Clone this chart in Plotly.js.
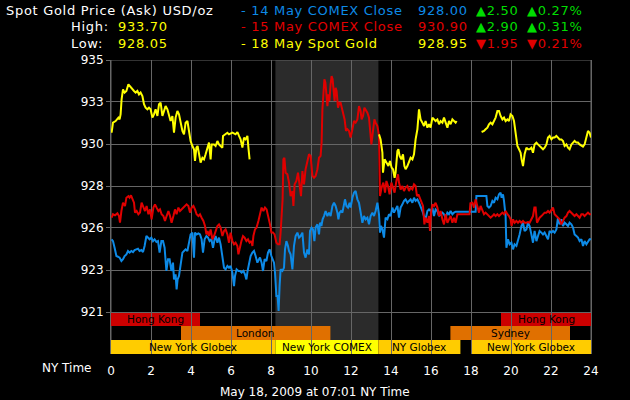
<!DOCTYPE html>
<html><head><meta charset="utf-8">
<script src="https://cdn.plot.ly/plotly-3.0.1.min.js"></script>
<style>html,body{margin:0;padding:0;background:#000;}#chart{width:630px;height:400px;}</style>
</head><body><div id="chart"></div>
<script>
// ---------- DATA ----------
const yellowHours = [0.03,0.10,0.23,0.37,0.43,0.48,0.53,0.60,0.68,0.77,
 0.87,0.93,1.03,1.15,1.23,1.32,1.40,1.48,1.57,1.65,
 1.73,1.82,1.90,1.98,2.07,2.15,2.23,2.32,2.40,2.48,
 2.57,2.65,2.73,2.82,2.90,2.98,3.07,3.15,3.23,3.32,
 3.40,3.48,3.57,3.65,3.73,3.82,3.90,3.98,4.07,4.15,
 4.20,4.27,4.33,4.40,4.48,4.57,4.65,4.73,4.82,4.90,
 4.98,5.03,5.15,5.23,5.32,5.40,5.48,5.57,5.60,5.70,
 5.82,5.90,6.07,6.23,6.32,6.40,6.48,6.57,6.65,6.73,
 6.82,6.87,6.93,null,
 13.40,13.48,13.57,13.60,13.68,13.77,13.87,13.95,14.03,14.10,
 14.18,14.23,14.32,14.37,14.43,14.52,14.60,14.67,14.73,14.82,
 14.90,14.98,15.07,15.15,15.23,15.32,15.40,15.48,15.57,15.65,
 15.73,15.82,15.90,15.98,16.07,16.15,16.23,16.32,16.40,16.48,
 16.57,16.65,16.73,16.82,16.90,16.98,17.07,17.15,17.23,17.28,null,
 18.53,18.65,18.73,18.82,18.90,18.98,19.07,19.15,19.23,19.32,
 19.40,19.48,19.57,19.65,19.73,19.82,19.90,19.98,20.07,20.15,
 20.23,20.32,20.40,20.48,20.53,20.60,20.68,20.77,20.85,20.93,
 21.02,21.10,21.18,21.27,21.35,21.43,21.52,21.60,21.68,21.77,
 21.85,21.93,22.02,22.10,22.18,22.27,22.35,22.43,22.52,22.60,
 22.68,22.77,22.85,22.93,23.02,23.10,23.18,23.27,23.35,23.43,
 23.52,23.60,23.68,23.77,23.85,23.93,24.00];
const yellowPrices = [930.96,931.52,931.61,931.80,931.70,931.98,932.81,933.37,933.19,933.28,
 933.65,933.56,933.46,933.28,933.19,933.28,933.09,933.19,933.00,932.54,
 932.35,932.26,932.35,932.26,931.80,931.98,932.26,931.89,932.54,932.63,
 931.89,932.17,932.44,932.26,931.98,931.61,931.89,930.96,931.80,932.17,
 931.98,931.43,931.06,930.87,931.52,931.61,930.96,930.50,930.22,930.04,
 929.39,930.13,930.22,929.67,929.30,929.57,929.48,929.76,930.13,930.41,
 929.48,930.31,930.31,930.22,930.50,930.31,930.22,930.13,930.78,930.87,
 930.96,930.87,930.96,930.87,931.00,930.78,930.59,930.13,930.69,930.59,
 930.78,930.13,929.48,null,
 930.87,930.59,929.85,928.74,929.48,929.30,929.11,929.39,929.02,928.93,
 928.46,928.74,929.94,930.04,929.67,929.48,929.76,929.11,928.93,929.11,
 929.39,929.57,929.48,929.76,930.59,931.15,932.26,931.70,931.52,931.33,
 931.61,931.24,931.43,931.24,931.80,931.70,931.61,931.70,931.43,931.61,
 931.52,931.80,931.52,931.24,931.61,931.43,931.70,931.61,931.52,931.61,null,
 931.00,931.06,931.15,931.24,931.43,931.52,931.43,931.61,931.80,932.17,
 932.17,931.89,931.70,931.80,931.61,931.70,931.61,931.98,931.89,931.61,
 930.96,930.22,930.04,929.85,929.48,929.11,929.76,930.13,930.04,930.04,
 930.13,929.85,930.31,930.41,930.31,930.22,930.13,930.04,930.13,930.31,
 930.69,930.78,930.59,930.69,930.69,930.78,930.69,930.59,930.59,930.50,
 930.22,930.31,930.13,930.04,930.31,930.41,930.50,930.41,930.41,930.31,
 930.22,930.19,930.31,930.69,931.06,930.96,930.69];

const redHours = [0.03,0.10,0.20,0.32,0.40,0.45,0.52,0.60,0.70,0.77,
 0.87,0.93,1.00,1.07,1.15,1.20,1.28,1.37,1.45,1.53,
 1.62,1.70,1.78,1.87,1.95,2.03,2.12,2.20,2.28,2.37,
 2.45,2.53,2.62,2.70,2.78,2.87,2.95,3.03,3.12,3.20,
 3.28,3.37,3.45,3.53,3.62,3.70,3.78,3.87,3.95,4.03,
 4.12,4.20,4.28,4.37,4.45,4.53,4.62,4.70,4.77,4.83,
 4.90,4.98,5.07,5.15,5.23,5.32,5.40,5.48,5.57,5.65,
 5.73,5.82,5.90,5.98,
 6.07,6.15,6.23,6.32,6.37,6.43,6.52,6.60,6.68,6.77,
 6.85,6.93,7.02,7.07,7.12,7.20,7.28,7.37,7.45,7.53,
 7.62,7.70,7.78,7.87,7.95,8.02,8.10,8.18,8.27,8.35,
 8.43,8.48,8.53,8.58,8.62,8.67,8.73,8.82,8.90,8.98,
 9.07,9.12,9.18,9.27,9.35,9.43,9.50,9.57,9.65,9.73,
 9.82,9.90,9.98,10.07,10.15,10.23,10.32,10.40,10.48,10.53,
 10.57,10.62,10.67,10.72,10.77,10.82,10.87,10.92,10.98,11.03,
 11.08,11.13,11.18,11.23,11.28,11.35,11.42,11.48,11.55,11.62,
 11.68,11.75,11.82,11.90,11.98,
 12.07,12.15,12.23,12.32,12.40,12.48,12.53,12.60,12.67,12.73,
 12.82,12.90,12.95,13.02,13.10,13.17,13.23,13.32,13.40,13.45,
 13.53,13.62,13.70,13.77,13.85,13.93,14.02,14.10,14.18,14.27,
 14.35,14.40,14.48,14.57,14.65,14.73,14.82,14.90,14.98,15.07,
 15.15,15.23,15.30,15.37,15.43,15.52,15.60,15.67,15.73,15.82,
 15.90,15.95,16.00,16.07,16.15,16.23,16.32,16.40,16.48,16.57,
 16.65,16.73,16.82,16.90,16.98,17.07,17.15,17.23,17.32,17.93,
 17.97,18.07,18.15,18.23,18.32,18.40,18.48,18.57,18.65,18.73,
 18.82,18.90,18.98,19.07,19.15,19.23,19.32,19.40,19.48,19.57,
 19.65,19.73,19.82,19.90,19.98,20.03,20.10,20.18,20.27,20.35,
 20.43,20.52,20.60,20.68,20.77,20.85,20.93,21.02,21.10,21.17,
 21.23,21.30,21.37,21.43,21.52,21.60,21.68,21.77,21.85,21.93,
 22.02,22.10,22.18,22.27,22.35,22.43,22.52,22.60,22.68,22.77,
 22.85,22.93,23.02,23.10,23.18,23.27,23.35,23.43,23.52,23.60,
 23.68,23.77,23.85,23.93,24.00];
const redPrices = [926.24,926.43,926.37,926.48,926.33,925.96,926.61,927.07,926.89,927.35,
 927.44,927.35,927.48,927.26,927.07,926.52,926.61,926.43,926.52,927.07,
 926.80,926.61,926.89,926.43,926.70,926.15,926.80,926.98,926.80,926.61,
 926.70,926.43,926.33,926.06,926.33,926.61,926.33,925.96,926.33,926.70,
 926.43,926.80,926.61,926.70,926.80,926.89,926.98,926.89,926.52,926.80,
 926.89,926.70,926.43,926.33,926.43,926.24,926.06,925.78,925.31,925.50,
 925.22,925.59,925.04,925.22,925.50,925.78,925.87,925.69,925.22,925.50,
 925.59,925.31,924.85,925.41,
 924.94,924.76,924.85,924.67,924.20,924.57,924.94,925.22,925.13,924.94,
 925.04,924.85,924.94,924.67,925.22,925.59,925.69,926.06,926.43,926.80,
 926.61,926.80,926.70,926.33,925.87,925.41,925.41,925.31,924.85,924.76,
 924.76,925.41,926.33,927.26,929.48,929.57,928.74,928.65,928.19,927.44,
 927.72,926.89,928.09,928.28,928.74,928.00,927.44,928.83,928.09,928.93,
 929.30,929.76,929.67,928.56,928.46,928.56,928.93,929.57,929.67,930.41,
 932.26,933.37,933.93,933.74,933.19,932.44,933.09,932.72,933.65,934.11,
 933.93,933.37,932.72,933.46,933.28,932.35,932.63,932.63,932.26,932.07,
 931.70,931.06,931.15,931.06,930.69,
 931.15,931.61,931.52,931.70,932.44,932.17,931.70,931.89,932.35,932.26,
 932.07,931.80,931.15,930.31,931.06,931.70,931.52,931.33,930.78,927.44,
 927.91,928.19,927.63,928.28,928.00,927.54,928.19,927.91,927.63,928.28,
 928.65,928.19,927.81,928.00,927.72,927.91,928.00,927.72,927.91,927.81,
 928.09,928.00,927.44,927.54,927.35,927.17,926.89,925.87,926.24,925.96,
 926.33,925.50,926.52,926.98,926.89,927.07,926.80,926.33,926.61,926.15,
 925.87,926.43,925.96,926.15,926.33,925.96,926.24,925.96,926.43,926.43,
 927.04,927.07,926.80,927.26,926.80,926.52,926.89,926.61,926.43,926.52,
 926.43,926.33,926.24,926.33,926.43,926.33,926.43,926.33,926.43,926.52,
 926.43,926.61,926.43,926.33,926.15,925.78,926.15,925.96,926.06,925.96,
 926.06,925.96,926.06,925.96,925.96,926.00,925.96,926.15,926.33,926.80,
 926.80,925.96,926.15,926.24,926.33,926.43,926.52,926.52,926.61,926.52,
 926.70,926.80,926.43,926.33,926.24,926.15,925.87,926.06,926.24,926.33,
 926.52,926.61,926.52,926.43,926.33,926.43,926.33,926.24,926.43,926.43,
 926.33,926.43,926.52,926.43,926.43];

const blueHours = [0.03,0.10,0.18,0.27,0.35,0.43,0.52,0.60,0.68,0.77,
 0.85,0.93,1.02,1.10,1.18,1.27,1.35,1.43,1.52,1.60,
 1.68,1.77,1.85,1.93,2.02,2.10,2.18,2.27,2.35,2.43,
 2.52,2.60,2.68,2.77,2.85,2.93,3.02,3.10,3.15,3.23,
 3.28,3.33,3.40,3.48,3.57,3.65,3.73,3.82,3.90,3.98,
 4.07,4.15,4.20,4.28,4.37,4.45,4.53,4.60,4.68,4.77,
 4.85,4.93,5.02,5.10,5.18,5.23,5.32,5.40,5.48,5.57,
 5.65,5.73,5.82,5.90,5.98,
 6.07,6.15,6.20,6.28,6.37,6.45,6.53,6.62,6.70,6.77,
 6.83,6.90,6.98,7.07,7.15,7.23,7.32,7.40,7.45,7.53,
 7.60,7.68,7.77,7.85,7.93,8.02,8.10,8.15,8.20,8.27,
 8.33,8.38,8.43,8.48,8.57,8.65,8.70,8.77,8.85,8.90,
 8.98,9.07,9.15,9.23,9.32,9.40,9.48,9.57,9.65,9.73,
 9.82,9.90,9.95,10.03,10.10,10.17,10.23,10.32,10.40,10.45,
 10.52,10.58,10.65,10.73,10.82,10.90,10.98,11.07,11.15,11.23,
 11.32,11.37,11.43,11.50,11.57,11.65,11.70,11.77,11.85,11.93,
 11.98,
 12.07,12.15,12.23,12.32,12.40,12.48,12.57,12.65,12.73,12.82,
 12.90,12.98,13.07,13.15,13.23,13.32,13.40,13.45,13.50,13.57,
 13.65,13.73,13.82,13.90,13.98,14.07,14.15,14.23,14.32,14.40,
 14.48,14.57,14.65,14.73,14.82,14.90,14.98,15.07,15.15,15.23,
 15.32,15.40,15.48,15.57,15.65,15.73,15.82,15.90,15.98,16.07,
 16.15,16.23,16.32,16.40,16.48,16.57,16.65,16.73,16.82,16.90,
 16.98,17.07,17.15,17.23,
 18.23,18.27,18.77,18.82,18.90,18.98,19.07,19.15,19.23,19.32,
 19.40,19.48,19.53,19.60,19.65,19.70,19.73,19.77,19.85,19.93,
 20.02,20.10,20.18,20.27,20.35,20.43,20.52,20.60,20.68,20.77,
 20.85,20.93,21.02,21.10,21.18,21.27,21.35,21.43,21.52,21.60,
 21.68,21.77,21.85,21.93,22.02,22.10,22.18,22.27,22.35,22.43,
 22.52,22.60,22.68,22.77,22.85,22.93,23.02,23.10,23.18,23.27,
 23.35,23.43,23.52,23.60,23.68,23.77,23.85,23.93,24.00];
const bluePrices = [925.04,924.94,924.57,924.11,924.07,924.02,923.83,923.93,924.11,924.20,
 924.39,924.30,924.39,924.33,924.44,924.48,924.52,924.39,924.44,924.33,
 924.67,925.22,925.13,925.04,925.13,924.94,925.04,924.89,924.94,924.30,
 924.94,924.94,924.57,923.28,923.93,923.93,923.28,923.74,922.81,923.09,
 922.26,922.81,923.00,923.65,924.30,924.39,924.48,924.39,924.85,925.31,
 925.41,924.02,925.41,925.31,925.37,925.31,925.04,924.30,925.04,925.22,
 925.13,924.94,925.04,924.57,925.04,925.22,924.85,925.13,924.76,924.11,
 923.46,923.37,923.56,923.46,923.56,
 923.19,922.44,923.00,923.37,923.28,923.28,923.19,923.28,923.09,922.81,
 923.28,923.74,924.11,924.30,924.39,924.11,923.74,923.93,924.02,923.74,
 923.28,923.93,923.83,924.30,924.48,924.11,923.93,923.74,923.19,921.89,
 921.89,921.06,922.44,923.37,923.28,923.46,924.48,924.94,924.67,924.39,
 924.20,923.37,924.67,925.22,925.41,925.13,925.22,925.41,924.30,924.02,
 924.48,924.20,925.50,925.69,925.59,924.94,925.69,925.87,925.31,925.96,
 925.78,926.15,926.33,926.61,926.33,926.52,926.33,926.89,927.07,926.89,
 926.52,926.15,926.52,926.61,926.52,926.98,927.26,926.89,926.80,927.07,
 926.80,
 927.35,927.63,927.72,927.26,927.07,926.43,925.96,926.33,926.15,926.24,
 925.87,926.33,926.52,926.33,926.61,927.07,926.43,925.41,925.78,925.59,
 925.13,926.24,926.15,926.43,926.33,926.80,926.52,926.70,926.89,926.24,
 926.80,926.98,927.17,927.26,927.07,927.17,927.26,927.07,927.35,927.17,
 927.26,927.07,926.89,926.61,926.33,926.15,926.61,926.70,926.61,926.80,
 926.33,926.70,926.61,926.33,926.43,926.52,926.43,926.24,926.52,926.43,
 926.61,926.43,926.52,926.57,
 926.57,927.44,927.44,926.89,926.80,926.89,927.17,927.07,927.35,927.26,
 927.54,927.63,927.35,927.54,927.17,926.70,926.33,924.57,925.04,924.76,
 924.85,924.48,924.76,924.67,924.94,925.31,925.78,925.96,925.50,925.59,
 925.96,925.78,925.31,924.85,925.50,924.94,925.22,925.50,925.41,925.31,
 925.41,925.22,925.04,925.50,925.41,925.50,925.41,925.59,926.24,925.87,
 926.15,925.78,925.96,925.87,925.78,925.96,925.87,925.69,925.31,925.22,
 925.13,924.94,925.04,924.67,924.94,924.76,924.94,925.04,925.04];

const yTickValues = [921, 923.333, 925.667, 928, 930.333, 932.667, 935];
const yTickLabels = ['921','923','926','928','930','933','935'];
const xTickValues = [0,2,4,6,8,10,12,14,16,18,20,22,24];

const sessionNames = ['Hong Kong','Hong Kong','London','Sydney','New York Globex','New York COMEX','NY Globex','New York Globex'];
const sessionStart = [0, 19.5, 3.5, 16.97, 0, 8.22, 13.37, 18.02];
const sessionEnd   = [4.45, 24, 10.97, 22.95, 8.22, 13.37, 17.47, 24];
const sessionRow   = [0, 0, 1, 1, 2, 2, 2, 2];
const comexStart = 8.22, comexEnd = 13.37;

const headerTitle = 'Spot Gold Price (Ask) USD/oz';
const highValue = '933.70', lowValue = '928.05';
const seriesLabels = ['- 14 May COMEX Close', '- 15 May COMEX Close', '- 18 May Spot Gold'];
const seriesLast   = ['928.00', '930.90', '928.95'];
const seriesChange = ['▲2.50', '▲2.90', '▼1.95'];
const seriesPct    = ['▲0.27%', '▲0.31%', '▼0.21%'];
const footerText = 'May 18, 2009 at 07:01 NY Time';

// ---------- STYLE / LAYOUT ----------
const FONT = 'DejaVu Sans, Verdana, sans-serif';
const GRID = '#666666';
const BLUE = '#0d8ae6', RED = '#e00000', YEL = '#ffff00', GREEN = '#00dd00';
const M = {l:111, r:39, t:60, b:46};
const plotW = 630 - M.l - M.r, plotH = 400 - M.t - M.b;
const step = (935 - 921) / 6;
const yMin = 921 - step;
const rowH = step / 3;
const px = x => (x - M.l) / plotW;
const py = y => (M.t + plotH - y) / plotH;

const sessionColor = {'Hong Kong':'#cc0000','London':'#e07000','Sydney':'#e07000',
  'New York Globex':'#ffcc00','NY Globex':'#ffcc00','New York COMEX':'#ffff00'};

const shapes = [];
shapes.push({type:'rect', layer:'below', xref:'x', yref:'y', x0:comexStart, x1:comexEnd,
  y0:921 - 2*rowH, y1:935, fillcolor:'#2b2b2b', line:{width:0}});
const annotations = [];
sessionNames.forEach((n,i)=>{
  const top = 921 - sessionRow[i]*rowH, bot = top - rowH;
  shapes.push({type:'rect', layer:'below', xref:'x', yref:'y', x0:sessionStart[i], x1:sessionEnd[i],
    y0:bot, y1:top, fillcolor:sessionColor[n], line:{width:0}});
  annotations.push({xref:'x', yref:'y', x:(sessionStart[i]+sessionEnd[i])/2, y:(top+bot)/2,
    text:n, showarrow:false, font:{family:FONT, size:10.5, color:'#000'}, xanchor:'center', yanchor:'middle'});
});
shapes.push({type:'line', xref:'x', yref:'y', x0:0, x1:24, y0:935, y1:935, line:{color:GRID, width:1}, layer:'below'});
shapes.push({type:'line', xref:'x', yref:'paper', x0:24, x1:24, y0:0, y1:1, line:{color:GRID, width:1}, layer:'below'});
shapes.push({type:'line', xref:'x', yref:'paper', x0:0, x1:0, y0:0, y1:1, line:{color:GRID, width:1}, layer:'below'});

function txt(x, y, text, color, anchor) {
  annotations.push({xref:'paper', yref:'paper', x:px(x), y:py(y), text:text, showarrow:false,
    xanchor:anchor||'left', yanchor:'middle', font:{family:FONT, size:13, color:color}});
}
const rowsY = [10, 26.7, 43.3];
const sColors = [BLUE, RED, YEL];
txt(4, rowsY[0], headerTitle, '#ffffff');
txt(69, rowsY[1], 'High:', '#ffffff');
txt(116, rowsY[1], highValue, YEL);
txt(69, rowsY[2], 'Low:', '#ffffff');
txt(116, rowsY[2], lowValue, YEL);
for (let i=0;i<3;i++){
  txt(239, rowsY[i], seriesLabels[i], sColors[i]);
  txt(416, rowsY[i], seriesLast[i], sColors[i]);
  const c = seriesChange[i].startsWith('▲') ? GREEN : RED;
  txt(474, rowsY[i], seriesChange[i], c);
  txt(525, rowsY[i], seriesPct[i], c);
}
annotations.push({xref:'paper', yref:'paper', x:px(94), y:py(367.5), text:'NY Time', showarrow:false,
  xanchor:'right', yanchor:'middle', font:{family:FONT, size:12, color:'#fff'}});
annotations.push({xref:'paper', yref:'paper', x:px(315), y:py(391.5), text:footerText, showarrow:false,
  xanchor:'center', yanchor:'middle', font:{family:FONT, size:12, color:'#fff'}});

const traces = [
  {x:blueHours, y:bluePrices, type:'scatter', mode:'lines', line:{color:BLUE, width:2}, hoverinfo:'skip'},
  {x:redHours, y:redPrices, type:'scatter', mode:'lines', line:{color:RED, width:2}, hoverinfo:'skip'},
  {x:yellowHours, y:yellowPrices, type:'scatter', mode:'lines', line:{color:YEL, width:2}, connectgaps:false, hoverinfo:'skip'}
];

const layout = {
  width:630, height:400, margin:M, paper_bgcolor:'#000', plot_bgcolor:'#000', showlegend:false,
  xaxis:{range:[0,24], tickmode:'array', tickvals:xTickValues, showgrid:true, gridcolor:GRID, gridwidth:1,
    zeroline:false, showline:false, ticks:'outside', ticklen:6, tickcolor:'rgba(0,0,0,0)',
    tickfont:{family:FONT, size:12, color:'#fff'}, fixedrange:true},
  yaxis:{range:[yMin,935], tickmode:'array', tickvals:yTickValues, ticktext:yTickLabels, showgrid:true,
    gridcolor:GRID, gridwidth:1, zeroline:false, showline:true, mirror:true, linecolor:GRID, linewidth:1,
    ticks:'outside', ticklen:4, tickcolor:GRID, tickfont:{family:FONT, size:12, color:'#fff'}, fixedrange:true},
  shapes:shapes, annotations:annotations
};
Plotly.newPlot('chart', traces, layout, {displayModeBar:false, staticPlot:true}).then(()=>{
  document.querySelectorAll('#chart .annotation-text').forEach(t=>{
    if (t.style.fontSize === '13px') {
      const b0 = t.getBBox();
      t.style.letterSpacing = '0.7px';
      const b1 = t.getBBox();
      const dx = b0.x - b1.x;
      t.setAttribute('x', parseFloat(t.getAttribute('x') || 0) + dx);
      t.querySelectorAll('tspan[x]').forEach(s => s.setAttribute('x', parseFloat(s.getAttribute('x')) + dx));
    }
  });
});
</script></body></html>
